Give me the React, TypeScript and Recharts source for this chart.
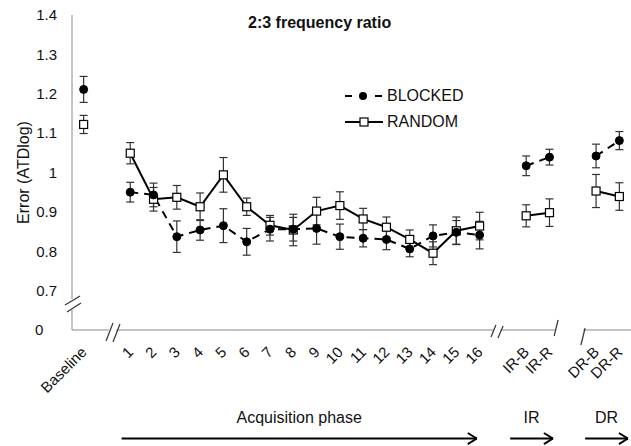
import React from 'react'
import {
  LineChart, Line, XAxis, YAxis, ErrorBar, ReferenceLine, Legend,
} from 'recharts'

// x slots: empty strings are the gaps between phases
const categories = [
  'Baseline', '', '1', '2', '3', '4', '5', '6', '7', '8', '9', '10', '11', '12', '13', '14', '15', '16',
  '', 'IR-B', 'IR-R', '', 'DR-B', 'DR-R',
]

const blocked = [
  1.211, null, 0.950, 0.943, 0.837, 0.854, 0.865, 0.824, 0.856, 0.856, 0.858, 0.837, 0.833, 0.830,
  0.806, 0.839, 0.848, 0.841, null, 1.017, 1.039, null, 1.042, 1.081,
]
const blockedErr = [
  0.033, null, 0.025, 0.030, 0.040, 0.026, 0.043, 0.034, 0.030, 0.030, 0.040, 0.032, 0.022, 0.026,
  0.020, 0.028, 0.030, 0.035, null, 0.025, 0.020, null, 0.030, 0.023,
]

const random = [
  1.122, null, 1.049, 0.932, 0.937, 0.913, 0.994, 0.913, 0.866, 0.854, 0.902, 0.916, 0.882, 0.861,
  0.830, 0.795, 0.852, 0.864, null, 0.890, 0.898, null, 0.953, 0.939,
]
const randomErr = [
  0.023, null, 0.027, 0.030, 0.030, 0.035, 0.044, 0.022, 0.025, 0.040, 0.035, 0.035, 0.027, 0.026,
  0.024, 0.029, 0.035, 0.035, null, 0.028, 0.035, null, 0.042, 0.035,
]

// 0.6 on the scale stands for the broken-off "0"
const yTicks = [0.6, 0.7, 0.8, 0.9, 1.0, 1.1, 1.2, 1.3, 1.4]
const yTickLabels = ['0', '0.7', '0.8', '0.9', '1', '1.1', '1.2', '1.3', '1.4']

const phases = [
  { name: 'Acquisition phase', from: 1.63, to: 16.88 },
  { name: 'IR', from: 18.31, to: 20.15 },
  { name: 'DR', from: 21.53, to: 23.37 },
]

const data = categories.map((label, i) => ({
  x: i,
  label,
  blocked: blocked[i],
  blockedErr: blockedErr[i],
  random: random[i],
  randomErr: randomErr[i],
}))

const xTicks = categories.map((c, i) => (c ? i : -1)).filter(i => i >= 0)

// axis pieces with breaks
const xAxisPieces = [[-0.5, 1.08], [1.40, 17.6], [17.9, 20.28], [21.45, 23.5]]
const xBreaks = [
  [0.96, 0.572, 1.26, 0.618],
  [1.26, 0.5695, 1.561, 0.6152],
  [17.49, 0.5822, 17.70, 0.6127],
  [17.79, 0.5797, 18.01, 0.6102],
  [20.20, 0.5848, 20.37, 0.6254],
  [21.35, 0.5619, 21.53, 0.6051],
]
const yAxisPieces = [[1.4, 0.679], [0.651, 0.6]]
const yBreaks = [
  [-0.80, 0.6635, -0.156, 0.6863],
  [-0.715, 0.6457, -0.114, 0.6686],
]
const arrowY = 0.3244

const AXIS = '#888'
const TEXT = '#111'

const XTick = (props: any) => {
  const { x, y, payload } = props
  const ax = x + 4
  const ay = y + 15
  return (
    <text x={ax} y={ay} textAnchor="end" fontSize={15} fill={TEXT} transform={`rotate(-45, ${ax}, ${ay})`}>
      {categories[payload.value]}
    </text>
  )
}

const YTick = (props: any) => {
  const { x, y, payload } = props
  const idx = yTicks.indexOf(payload.value)
  const isZero = idx === 0
  return (
    <text x={isZero ? x - 29 : x - 7} y={y} dy="0.355em" textAnchor={isZero ? 'start' : 'end'} fontSize={15} fill={TEXT}>
      {yTickLabels[idx]}
    </text>
  )
}

const SquareDot = (props: any) => {
  const { cx, cy } = props
  if (cx == null || cy == null) return <g key={props.key} />
  return <rect key={props.key} x={cx - 4} y={cy - 4} width={8} height={8} fill="#fff" stroke="#000" strokeWidth={1.2} />
}

const LegendContent = (props: any) => {
  const { payload = [] } = props
  return (
    <div>
      {payload.map((p: any) => (
        <div key={p.value} style={{ display: 'flex', alignItems: 'center', height: 26 }}>
          <svg width={40} height={16}>
            {p.dataKey === 'blocked' ? (
              <>
                <line x1={0} y1={8} x2={7} y2={8} stroke="#000" strokeWidth={2} />
                <circle cx={18} cy={8} r={4} fill="#000" />
                <line x1={30} y1={8} x2={37} y2={8} stroke="#000" strokeWidth={2} />
              </>
            ) : (
              <>
                <line x1={0} y1={8} x2={38} y2={8} stroke="#000" strokeWidth={2} />
                <rect x={15} y={4} width={8} height={8} fill="#fff" stroke="#000" strokeWidth={1.2} />
              </>
            )}
          </svg>
          <span style={{ fontSize: 16, color: TEXT, marginLeft: 2 }}>{p.value}</span>
        </div>
      ))}
    </div>
  )
}

const renderYLabel = (props: any) => {
  const { viewBox } = props
  const cx = viewBox.x + 23
  const cy = viewBox.y + viewBox.height / 2
  return (
    <text x={cx} y={cy} dy="0.355em" textAnchor="middle" fontSize={16} fill={TEXT} transform={`rotate(-90, ${cx}, ${cy})`}>
      Error (ATDlog)
    </text>
  )
}

export default function App() {
  return (
    <div style={{ position: 'absolute', left: 0, top: 0, width: 631, height: 446, background: '#fff', fontFamily: '"Liberation Sans", Arial, sans-serif' }}>
      <div style={{ position: 'absolute', left: 248, top: 14, fontSize: 16, fontWeight: 'bold', color: TEXT, whiteSpace: 'nowrap', lineHeight: '18px', zIndex: 2 }}>
        2:3 frequency ratio
      </div>
      <LineChart width={631} height={446} data={data} margin={{ top: 15, right: 0, left: 0, bottom: 0 }}>
        <XAxis
          type="number"
          dataKey="x"
          domain={[-0.5, 23.5]}
          ticks={xTicks}
          interval={0}
          axisLine={false}
          tickLine={false}
          tick={<XTick />}
          height={116}
        />
        <YAxis
          type="number"
          domain={[0.6, 1.4]}
          ticks={yTicks}
          interval={0}
          axisLine={false}
          tickLine={false}
          tick={<YTick />}
          width={72}
          label={{ content: renderYLabel }}
        />
        {xAxisPieces.map(([a, b], i) => (
          <ReferenceLine key={`xa${i}`} segment={[{ x: a, y: 0.6 }, { x: b, y: 0.6 }]} stroke={AXIS} strokeWidth={1} ifOverflow="visible" />
        ))}
        {xBreaks.map(([x1, y1, x2, y2], i) => (
          <ReferenceLine key={`xb${i}`} segment={[{ x: x1, y: y1 }, { x: x2, y: y2 }]} stroke="#333" strokeWidth={1.2} ifOverflow="visible" />
        ))}
        {yAxisPieces.map(([a, b], i) => (
          <ReferenceLine key={`ya${i}`} segment={[{ x: -0.5, y: a }, { x: -0.5, y: b }]} stroke={AXIS} strokeWidth={1} ifOverflow="visible" />
        ))}
        {yBreaks.map(([x1, y1, x2, y2], i) => (
          <ReferenceLine key={`yb${i}`} segment={[{ x: x1, y: y1 }, { x: x2, y: y2 }]} stroke="#333" strokeWidth={1.2} ifOverflow="visible" />
        ))}
        {phases.map(p => (
          <ReferenceLine
            key={p.name}
            segment={[{ x: p.from, y: arrowY }, { x: p.to, y: arrowY }]}
            stroke="#000"
            strokeWidth={2}
            ifOverflow="visible"
            label={{ value: p.name, position: 'top', offset: 16, fontSize: 16, fill: TEXT }}
          />
        ))}
        {phases.map(p => (
          <ReferenceLine key={`${p.name}-h1`} segment={[{ x: p.to - 0.39, y: arrowY + 0.014 }, { x: p.to, y: arrowY }]} stroke="#000" strokeWidth={2} ifOverflow="visible" />
        ))}
        {phases.map(p => (
          <ReferenceLine key={`${p.name}-h2`} segment={[{ x: p.to - 0.39, y: arrowY - 0.014 }, { x: p.to, y: arrowY }]} stroke="#000" strokeWidth={2} ifOverflow="visible" />
        ))}
        <Legend
          layout="vertical"
          align="center"
          verticalAlign="middle"
          wrapperStyle={{ left: 345, top: 83, width: 'auto' }}
          content={<LegendContent />}
        />
        <Line
          type="linear"
          dataKey="random"
          name="RANDOM"
          stroke="#000"
          strokeWidth={2}
          dot={SquareDot}
          activeDot={false}
          connectNulls={false}
          isAnimationActive={false}
        >
          <ErrorBar dataKey="randomErr" direction="y" width={4} stroke="#333" strokeWidth={1.2} isAnimationActive={false} />
        </Line>
        <Line
          type="linear"
          dataKey="blocked"
          name="BLOCKED"
          stroke="#000"
          strokeWidth={2}
          strokeDasharray="8 6"
          dot={{ r: 4, fill: '#000', stroke: '#000', strokeWidth: 1, strokeDasharray: '' }}
          activeDot={false}
          connectNulls={false}
          isAnimationActive={false}
        >
          <ErrorBar dataKey="blockedErr" direction="y" width={4} stroke="#333" strokeWidth={1.2} isAnimationActive={false} />
        </Line>
      </LineChart>
    </div>
  )
}
